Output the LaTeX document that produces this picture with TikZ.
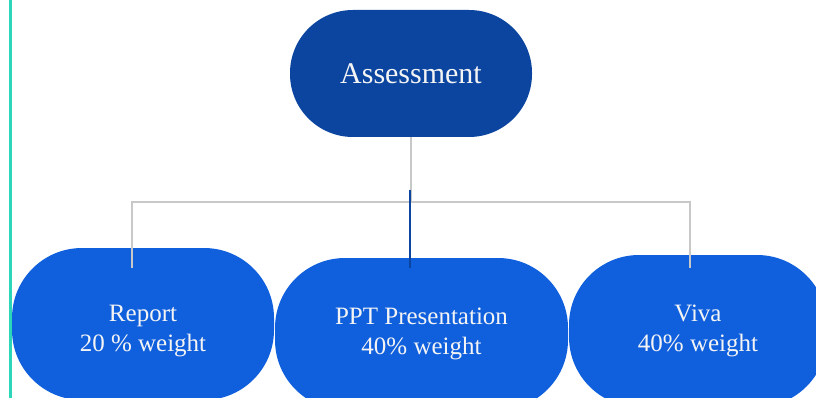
\documentclass[tikz,border=0pt]{standalone}
\usepackage{fontspec}
\setmainfont{Liberation Serif}
\definecolor{topblue}{RGB}{11,69,160}
\definecolor{partblue}{RGB}{16,96,222}
\definecolor{linkgray}{RGB}{200,200,200}
\definecolor{edgeteal}{RGB}{44,214,184}
\definecolor{textwhite}{RGB}{244,244,244}
\tikzset{
  topbox/.style={fill=topblue, text=textwhite, minimum width=242pt, minimum height=127pt,
    rounded corners=63pt, font=\fontsize{30}{34}\selectfont, inner sep=0pt},
  partbox/.style={fill=partblue, text=textwhite, minimum height=152pt,
    rounded corners=70pt, align=center, font=\fontsize{25}{30}\selectfont, inner sep=0pt},
  parttext/.style={text=textwhite, align=center, font=\fontsize{25}{30}\selectfont},
  link/.style={draw=linkgray, line width=2pt},
  midlink/.style={draw=topblue, line width=2pt}
}
\begin{document}
\begin{tikzpicture}[x=1pt,y=-1pt]
  \useasboundingbox (0,0) rectangle (816,398);
  \clip (0,0) rectangle (816,398);
  % linke Randlinie
  \draw[edgeteal, line width=2.5pt] (10.5,0) -- (10.5,398);
  % Knoten
  \node[topbox] (assess) at (411,73.5) {Assessment};
  \node[partbox, minimum width=262pt,
    label={[parttext, yshift=-7pt]center:Report\\20 \% weight}] (report) at (143,324) {};
  \node[partbox, minimum width=293pt] (ppt) at (421.5,334) {PPT Presentation\\40\% weight};
  \node[partbox, minimum width=258pt] (viva) at (698,331) {Viva\\40\% weight};
  % Verbindungen
  \coordinate (split) at (411,202);
  \coordinate (reportend) at (132,268);
  \coordinate (vivaend) at (690,268);
  \coordinate (pptstart) at (410,190);
  \coordinate (pptend) at (410,268);
  \draw[link] (assess.south) -- (split);
  \draw[link] (reportend) |- (split) -| (vivaend);
  \draw[midlink] (pptstart) -- (pptend);
\end{tikzpicture}
\end{document}
